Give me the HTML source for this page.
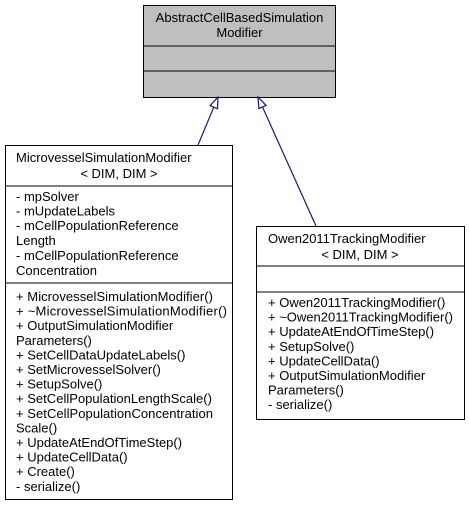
<!DOCTYPE html>
<html><head><meta charset="utf-8"><style>html,body{margin:0;padding:0;background:#fff}svg{display:block}</style></head>
<body>
<svg width="469" height="507" xmlns="http://www.w3.org/2000/svg" font-family="Liberation Sans, Arial, sans-serif" font-size="13" fill="#000">
<rect x="0" y="0" width="469" height="507" fill="#fff"/>
<!-- top box -->
<rect x="143.5" y="5.5" width="192" height="92" fill="#bfbfbf" stroke="#000" stroke-width="1"/>
<line x1="143.5" y1="46" x2="335.5" y2="46" stroke="#000"/>
<line x1="143.5" y1="71" x2="335.5" y2="71" stroke="#000"/>
<text x="239.5" y="22" text-anchor="middle">AbstractCellBasedSimulation</text>
<text x="239.5" y="37" text-anchor="middle">Modifier</text>
<!-- left box -->
<rect x="5.5" y="145.5" width="227" height="354" fill="#fff" stroke="#000"/>
<line x1="5.5" y1="186" x2="232.5" y2="186" stroke="#000"/>
<line x1="5.5" y1="283" x2="232.5" y2="283" stroke="#000"/>
<text x="16" y="162">MicrovesselSimulationModifier</text>
<text x="119" y="178" text-anchor="middle">&lt; DIM, DIM &gt;</text>
<g>
<text x="16" y="201">- mpSolver</text>
<text x="16" y="215.5">- mUpdateLabels</text>
<text x="16" y="230">- mCellPopulationReference</text>
<text x="16" y="245">Length</text>
<text x="16" y="260">- mCellPopulationReference</text>
<text x="16" y="275">Concentration</text>
</g>
<g>
<text x="16" y="301" textLength="197">+ MicrovesselSimulationModifier()</text>
<text x="16" y="315.6" textLength="211">+ ~MicrovesselSimulationModifier()</text>
<text x="16" y="330.2">+ OutputSimulationModifier</text>
<text x="16" y="344.8">Parameters()</text>
<text x="16" y="359.4">+ SetCellDataUpdateLabels()</text>
<text x="16" y="374">+ SetMicrovesselSolver()</text>
<text x="16" y="388.6">+ SetupSolve()</text>
<text x="16" y="403.2" textLength="196">+ SetCellPopulationLengthScale()</text>
<text x="16" y="417.8" textLength="197">+ SetCellPopulationConcentration</text>
<text x="16" y="432.4">Scale()</text>
<text x="16" y="447">+ UpdateAtEndOfTimeStep()</text>
<text x="16" y="461.6">+ UpdateCellData()</text>
<text x="16" y="476.2">+ Create()</text>
<text x="16" y="490.8">- serialize()</text>
</g>
<!-- right box -->
<rect x="256.5" y="226.5" width="208" height="193" fill="#fff" stroke="#000"/>
<line x1="256.5" y1="266" x2="464.5" y2="266" stroke="#000"/>
<line x1="256.5" y1="292" x2="464.5" y2="292" stroke="#000"/>
<text x="268" y="243">Owen2011TrackingModifier</text>
<text x="360" y="259" text-anchor="middle">&lt; DIM, DIM &gt;</text>
<g>
<text x="268" y="307">+ Owen2011TrackingModifier()</text>
<text x="268" y="321.6" textLength="185">+ ~Owen2011TrackingModifier()</text>
<text x="268" y="336.2">+ UpdateAtEndOfTimeStep()</text>
<text x="268" y="350.8">+ SetupSolve()</text>
<text x="268" y="365.4">+ UpdateCellData()</text>
<text x="268" y="380">+ OutputSimulationModifier</text>
<text x="268" y="394.6">Parameters()</text>
<text x="268" y="409.2">- serialize()</text>
</g>
<!-- arrows -->
<g stroke="#191970" stroke-width="1.2" fill="#fff">
<line x1="198" y1="145" x2="213.8" y2="107.2"/>
<polygon points="218,97 217.5,108.7 210.1,105.7"/>
<line x1="316" y1="226" x2="262.5" y2="107"/>
<polygon points="258,97 266.1,105.4 258.9,108.6"/>
</g>
</svg>
</body></html>
